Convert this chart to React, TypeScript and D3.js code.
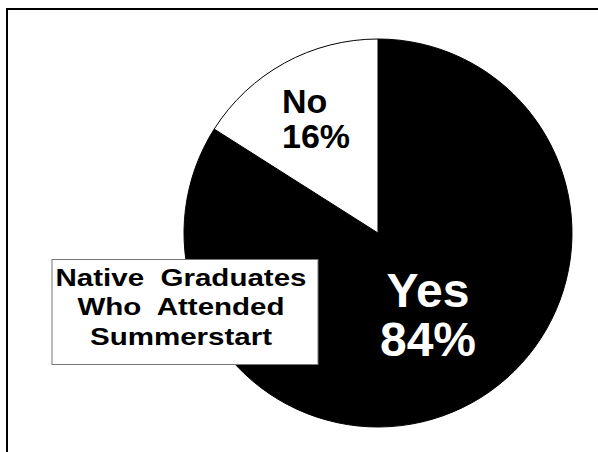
import * as d3 from "d3";

// values
const answers = ["Yes", "No"];
const shares = [84, 16];
const sliceColors = ["#000000", "#ffffff"];
const labelColors = ["#ffffff", "#000000"];
const legendLines = ["Native  Graduates", "Who  Attended", "Summerstart"];

const width = 598;
const height = 452;
const cx = 378;
const cy = 233;
const radius = 194;

export default function App() {
  const arcs = d3
    .pie<number>()
    .sort(null)
    .value((d) => d)(shares);

  const arc = d3.arc<d3.PieArcDatum<number>>().innerRadius(0).outerRadius(radius);

  // label anchors, relative to the pie centre
  const labelPos = [
    { x: cx + 50, y: cy + 74, size: 48, gap: 49, anchor: "middle" },
    { x: cx - 96, y: cy - 120, size: 34, gap: 35, anchor: "start" },
  ];

  return (
    <svg
      width={width}
      height={height}
      style={{ position: "absolute", left: 0, top: 0, background: "#fff" }}
      fontFamily="'Liberation Sans', Arial, sans-serif"
      fontWeight="bold"
    >
      {/* frame, cut off at right and bottom */}
      <rect x={7} y={9} width={width + 20} height={height + 20} fill="none" stroke="#000" strokeWidth={2} />

      <g transform={`translate(${cx},${cy})`}>
        {arcs.map((a, i) => (
          <path key={answers[i]} d={arc(a) ?? ""} fill={sliceColors[i]} stroke="#000" strokeWidth={1} />
        ))}
      </g>

      {arcs.map((a, i) => {
        const p = labelPos[i];
        return (
          <text
            key={answers[i]}
            x={p.x}
            y={p.y}
            fontSize={p.size}
            fill={labelColors[i]}
            textAnchor={p.anchor}
          >
            <tspan x={p.x}>{answers[i]}</tspan>
            <tspan x={p.x} dy={p.gap}>{`${shares[i]}%`}</tspan>
          </text>
        );
      })}

      {/* caption box */}
      <rect x={52} y={259.5} width={266} height={105} fill="#fff" stroke="#777" strokeWidth={1} />
      <g transform="translate(181,0) scale(1.23,1)">
        {legendLines.map((line, i) => (
          <text
            key={line}
            x={0}
            y={286 + i * 29.5}
            fontSize={24}
            textAnchor="middle"
            fill="#000"
            style={{ whiteSpace: "pre" }}
          >
            {line}
          </text>
        ))}
      </g>
    </svg>
  );
}
